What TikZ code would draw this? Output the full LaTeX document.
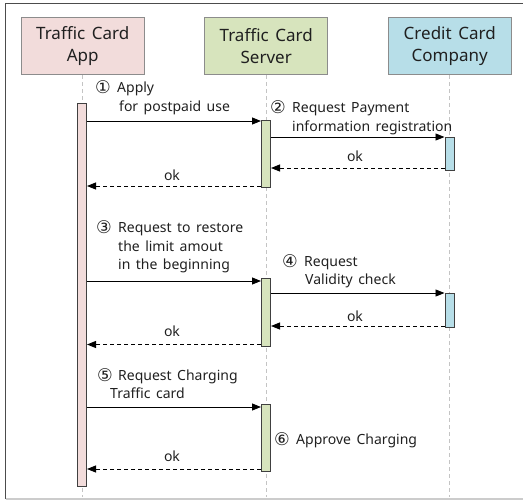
\documentclass[tikz,border=0pt]{standalone}
\usepackage{fontspec}
\setmainfont{Noto Sans}[WordSpace={1.5,1,1}]
\newfontfamily\circnum{DejaVu Sans}
\usetikzlibrary{arrows.meta}

\definecolor{appfill}{HTML}{F2DCDB}
\definecolor{srvfill}{HTML}{D7E4BD}
\definecolor{ccfill}{HTML}{B7DEE8}
\definecolor{boxline}{HTML}{8C8C8C}
\definecolor{barline}{HTML}{404040}
\definecolor{lifeline}{HTML}{C4C4C4}
\definecolor{txt}{HTML}{202020}

\tikzset{
  x=1pt, y=-1pt,
  actor/.style={draw=boxline, line width=0.9pt, minimum width=123pt, minimum height=57pt,
    inner sep=0pt, align=center, font=\fontsize{17}{22}\selectfont, text=txt},
  actbar/.style={draw=barline, line width=1pt, minimum width=9pt, inner sep=0pt},
  life/.style={draw=lifeline, line width=1.2pt, dash pattern=on 4pt off 3pt},
  msg/.style={draw=black, line width=0.9pt, -{Triangle[length=9pt,width=7pt]}},
  reply/.style={msg, dash pattern=on 4pt off 3pt},
  lbl/.style={anchor=base west, inner sep=0pt, text=txt, font=\fontsize{14}{19}\selectfont},
  num/.style={lbl, font=\circnum\fontsize{17.5}{19}\selectfont},
}

\begin{document}
\begin{tikzpicture}
\useasboundingbox (0,0) rectangle (523,501);

% frame of the sheet
\draw[draw=black!70, line width=1.6pt] (5.5,499) -- (5.5,3.5) -- (523,3.5);
\draw[draw=black!20, line width=1.2pt] (5.5,499) -- (523,499);

% participants
\node[actor, fill=appfill] (app) at (82.75,46.25) {Traffic Card\\App};
\node[actor, fill=srvfill] (srv) at (266.25,46.25) {Traffic Card\\Server};
\node[actor, fill=ccfill]  (cc)  at (449.75,46.25) {Credit Card\\Company};

% lifelines
\coordinate (append) at (82.5,497);
\coordinate (srvend) at (266,497);
\coordinate (ccend)  at (449.5,497);
\draw[life] (app.south) -- (app.south |- append);
\draw[life] (srv.south) -- (srv.south |- srvend);
\draw[life] (cc.south)  -- (cc.south |- ccend);

% activation bars
\node[actbar, fill=appfill, minimum height=383pt] (appbar) at (82,295) {};
\node[actbar, fill=srvfill, minimum height=67pt]  (srvA) at (266,153.5) {};
\node[actbar, fill=ccfill,  minimum height=33pt]  (ccA)  at (449.5,153.5) {};
\node[actbar, fill=srvfill, minimum height=68pt]  (srvB) at (266,312) {};
\node[actbar, fill=ccfill,  minimum height=34pt]  (ccB)  at (449.5,310) {};
\node[actbar, fill=srvfill, minimum height=67pt]  (srvC) at (266,437.5) {};

% message levels
\coordinate (m1) at (0,121);
\coordinate (m2) at (0,137);
\coordinate (r2) at (0,168);
\coordinate (r1) at (0,186);
\coordinate (m3) at (0,281);
\coordinate (m4) at (0,293);
\coordinate (r4) at (0,326);
\coordinate (r3) at (0,344.5);
\coordinate (m5) at (0,407);
\coordinate (r5) at (0,469);

% messages
\draw[msg]   (appbar.east |- m1) -- (srvA.west |- m1);
\draw[msg]   (srvA.east |- m2)   -- (ccA.west |- m2);
\draw[reply] (ccA.west |- r2)    -- (srvA.east |- r2);
\draw[reply] (srvA.west |- r1)   -- (appbar.east |- r1);
\draw[msg]   (appbar.east |- m3) -- (srvB.west |- m3);
\draw[msg]   (srvB.east |- m4)   -- (ccB.west |- m4);
\draw[reply] (ccB.west |- r4)    -- (srvB.east |- r4);
\draw[reply] (srvB.west |- r3)   -- (appbar.east |- r3);
\draw[msg]   (appbar.east |- m5) -- (srvC.west |- m5);
\draw[reply] (srvC.west |- r5)   -- (appbar.east |- r5);

% labels
\node[num] (n1) at (95,93) {①};
\node[lbl] (t1a) at (117,92) {Apply};
\node[lbl] (t1b) at (119,111) {for postpaid use};

\node[num] (n2) at (270,113) {②};
\node[lbl] (t2a) at (292,112) {Request Payment};
\node[lbl] (t2b) at (292,131) {information registration};

\node[lbl, anchor=base] (ok2) at (355,161) {ok};
\node[lbl, anchor=base] (ok1) at (172,180) {ok};

\node[num] (n3) at (96,233.5) {③};
\node[lbl] (t3a) at (118,232.5) {Request to restore};
\node[lbl] (t3b) at (118,251) {the limit amout};
\node[lbl] (t3c) at (118,269.5) {in the beginning};

\node[num] (n4) at (282,267) {④};
\node[lbl] (t4a) at (304,266) {Request};
\node[lbl] (t4b) at (305,284.5) {Validity check};

\node[lbl, anchor=base] (ok4) at (355,321) {ok};
\node[lbl, anchor=base] (ok3) at (172,336.5) {ok};

\node[num] (n5) at (97,381) {⑤};
\node[lbl] (t5a) at (118,380) {Request Charging};
\node[lbl] (t5b) at (110,398) {Traffic card};

\node[num] (n6) at (274,445) {⑥};
\node[lbl] (t6a) at (296,444) {Approve Charging};

\node[lbl, anchor=base] (ok5) at (172,461.5) {ok};
\end{tikzpicture}
\end{document}
